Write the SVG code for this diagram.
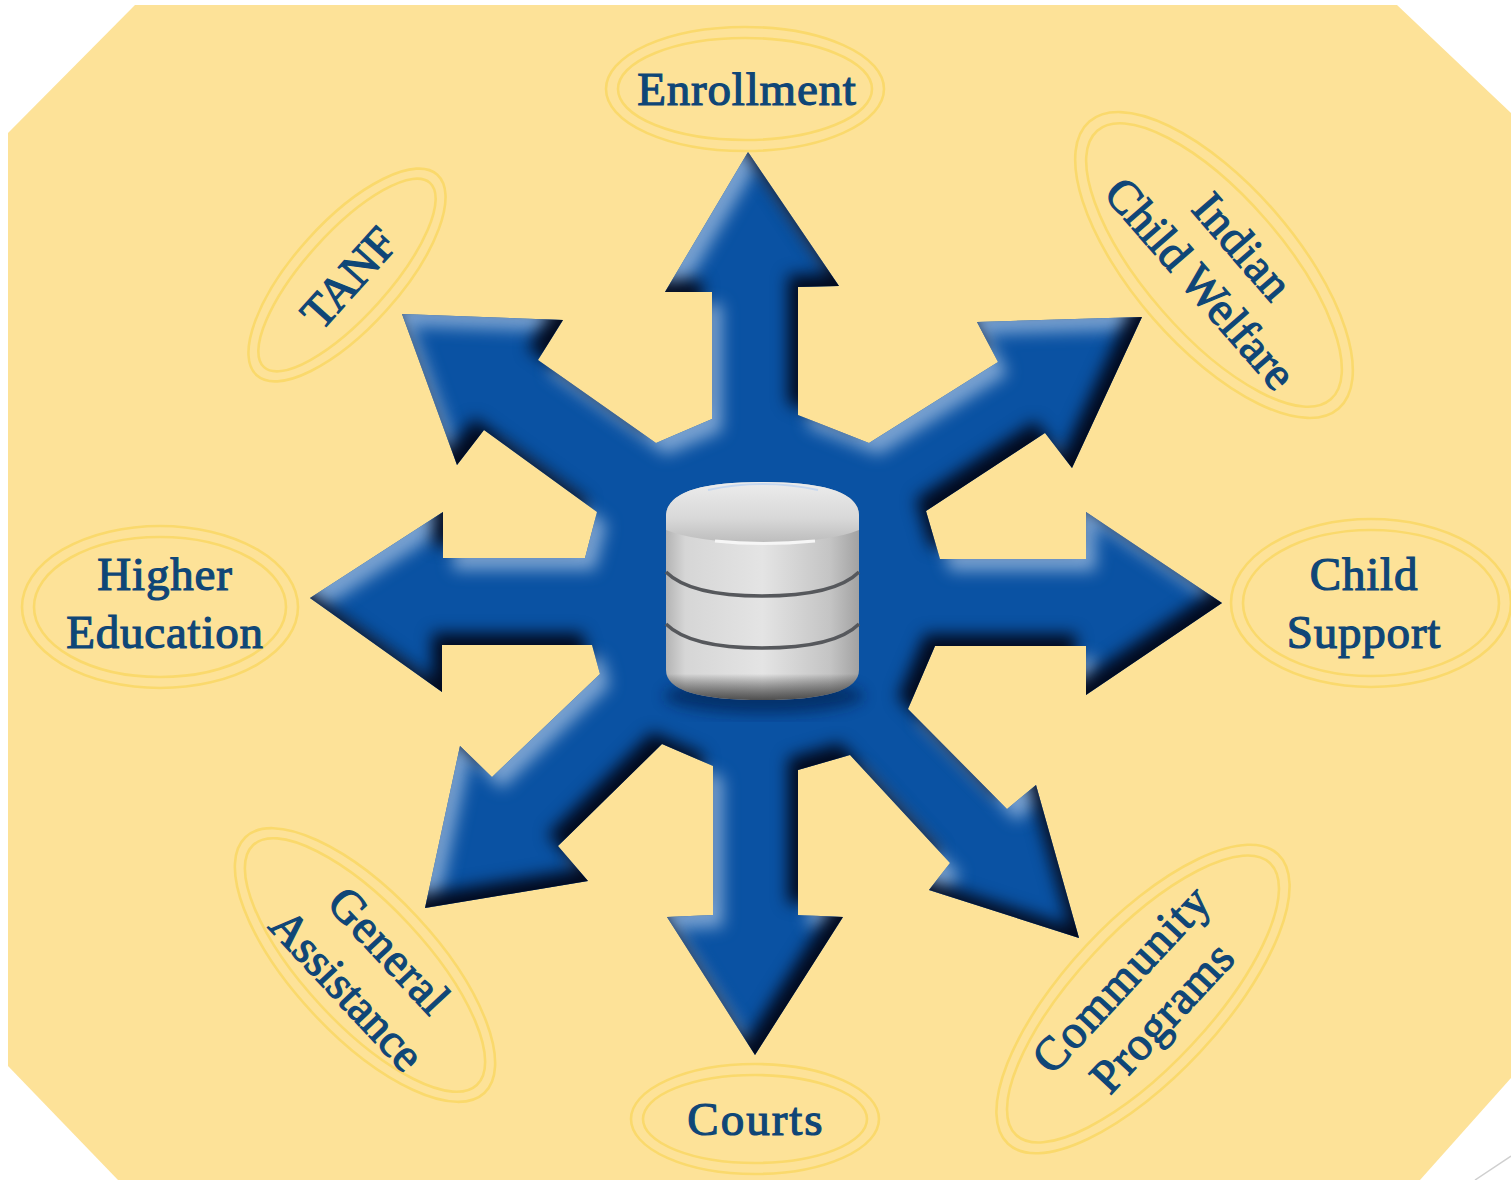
<svg xmlns="http://www.w3.org/2000/svg" width="1511" height="1180" viewBox="0 0 1511 1180">
<style>
.o{fill:none;stroke:#fad96c;stroke-width:2.6}
.t{font-family:"Liberation Serif","Times New Roman",serif;font-size:47px;letter-spacing:.8px;fill:#0f4677;stroke:#0f4677;stroke-width:1.2;text-anchor:middle}
</style>
<defs>
<filter id="bevel" x="-5%" y="-5%" width="110%" height="110%" color-interpolation-filters="sRGB">
<feGaussianBlur in="SourceAlpha" stdDeviation="8" result="b"/>
<feOffset in="b" dx="-10" dy="-12" result="d1"/>
<feComposite in="SourceAlpha" in2="d1" operator="out" result="d2"/>
<feFlood flood-color="#020a1e" result="dc"/>
<feComposite in="dc" in2="d2" operator="in" result="dark"/>
<feOffset in="b" dx="10" dy="12" result="l1"/>
<feComposite in="SourceAlpha" in2="l1" operator="out" result="l2"/>
<feFlood flood-color="#8db0da" flood-opacity=".85" result="lc"/>
<feComposite in="lc" in2="l2" operator="in" result="light"/>
<feMerge><feMergeNode in="SourceGraphic"/><feMergeNode in="light"/><feMergeNode in="dark"/></feMerge>
</filter>
<filter id="soft" x="-10%" y="-20%" width="120%" height="140%"><feGaussianBlur stdDeviation="7"/></filter>
<linearGradient id="metal" x1="0" x2="1" y1="0" y2="0">
<stop offset="0" stop-color="#b4b4b4"/><stop offset=".1" stop-color="#d6d6d6"/><stop offset=".5" stop-color="#e4e4e4"/><stop offset=".85" stop-color="#c4c4c4"/><stop offset="1" stop-color="#a2a2a2"/>
</linearGradient>
<linearGradient id="lid" x1="0" x2="0" y1="0" y2="1">
<stop offset="0" stop-color="#ececec"/><stop offset=".6" stop-color="#d8d8d8"/><stop offset="1" stop-color="#bcbcbc"/>
</linearGradient>
<linearGradient id="base" x1="0" x2="0" y1="0" y2="1">
<stop offset="0" stop-color="#000" stop-opacity="0"/><stop offset=".88" stop-color="#000" stop-opacity="0"/><stop offset="1" stop-color="#2a2a2a" stop-opacity=".8"/>
</linearGradient>
</defs>

<polygon id="background" fill="#fde298" points="135,5 1397,5 1511,113 1511,1078 1420,1180 118,1180 8,1066 8,133"/>
<line x1="1475" y1="1180" x2="1511" y2="1156" stroke="#cfcfcf" stroke-width="1.5"/>

<g id="connectors" filter="url(#bevel)">
<path fill="#0a52a3" d="M748,152 L839,286 L798,287 L798,415 L869,443 L998,362 L977,322 L1142,317 L1072,468 L1045,433 L926,511 L940,559 L1086,559 L1086,512 L1222,603 L1086,695 L1086,646 L935,646 L908,709 L1007,809 L1036,785 L1079,938 L929,890 L950,863 L850,755 L798,770 L798,915 L843,917 L755,1055 L667,917 L713,915 L713,766 L662,744 L558,846 L588,881 L425,908 L460,746 L492,777 L600,674 L592,645 L442,645 L442,692 L310,598 L443,512 L443,558 L585,558 L597,512 L484,430 L457,465 L402,314 L563,320 L538,360 L656,443 L712,419 L712,292 L665,292 Z"/>
</g>

<g id="database">
<ellipse cx="764" cy="696" rx="100" ry="18" fill="#031c4a" opacity=".6" filter="url(#soft)"/>
<path d="M666,515 Q668,482 762,482 Q858,482 859,515 V670 Q859,700 762,700 Q666,700 666,670 Z" fill="url(#metal)"/>
<path d="M666,515 Q668,482 762,482 Q858,482 859,515 V530 Q830,542 762,543 Q695,542 666,530 Z" fill="url(#lid)"/>
<path d="M708,490 Q762,478 818,490" fill="none" stroke="#c7d8ef" stroke-width="2"/>
<path d="M715,541 Q762,546 815,541" fill="none" stroke="#f6f6f6" stroke-width="3"/>
<path d="M666,572 Q690,596 762,596 Q835,596 859,572" fill="none" stroke="#56585c" stroke-width="3.5"/>
<path d="M666,624 Q690,648 762,648 Q835,648 859,624" fill="none" stroke="#56585c" stroke-width="3.5"/>
<path d="M666,515 Q668,482 762,482 Q858,482 859,515 V670 Q859,700 762,700 Q666,700 666,670 Z" fill="url(#base)"/>
</g>

<g id="enrollment"><ellipse class="o" cx="745" cy="89" rx="139" ry="62"/><ellipse class="o" cx="745" cy="89" rx="127" ry="51"/><text class="t" x="747" y="105">Enrollment</text></g>
<g id="indian-child-welfare" transform="rotate(49 1214 265)"><ellipse class="o" cx="1214" cy="265" rx="190" ry="81"/><ellipse class="o" cx="1214" cy="265" rx="178" ry="69"/><text class="t" x="1219" y="247">Indian</text><text class="t" x="1219" y="303" style="letter-spacing:0">Child Welfare</text></g>
<g id="tanf" transform="rotate(-48 347 275)"><ellipse class="o" cx="347" cy="275" rx="135" ry="53"/><ellipse class="o" cx="347" cy="275" rx="124" ry="42"/><text class="t" x="346" y="294" style="letter-spacing:-.5px">TANF</text></g>
<g id="higher-education"><ellipse class="o" cx="160" cy="607" rx="138" ry="81"/><ellipse class="o" cx="160" cy="607" rx="126" ry="70"/><text class="t" x="165" y="590">Higher</text><text class="t" x="165" y="648">Education</text></g>
<g id="child-support"><ellipse class="o" cx="1371" cy="603" rx="140" ry="84"/><ellipse class="o" cx="1371" cy="603" rx="128" ry="73"/><text class="t" x="1364" y="590">Child</text><text class="t" x="1364" y="648">Support</text></g>
<g id="general-assistance" transform="rotate(47 365 965)"><ellipse class="o" cx="365" cy="965" rx="175" ry="71"/><ellipse class="o" cx="365" cy="965" rx="164" ry="60"/><text class="t" x="371" y="953">General</text><text class="t" x="371" y="1011" style="letter-spacing:0">Assistance</text></g>
<g id="community-programs" transform="rotate(-47 1143 999)"><ellipse class="o" cx="1143" cy="999" rx="198" ry="78"/><ellipse class="o" cx="1143" cy="999" rx="186" ry="67"/><text class="t" x="1143" y="985" style="letter-spacing:1.4px">Community</text><text class="t" x="1143" y="1041">Programs</text></g>
<g id="courts"><ellipse class="o" cx="755" cy="1119" rx="124" ry="55"/><ellipse class="o" cx="755" cy="1119" rx="112" ry="44"/><text class="t" x="756" y="1135" style="letter-spacing:2px">Courts</text></g>
</svg>
